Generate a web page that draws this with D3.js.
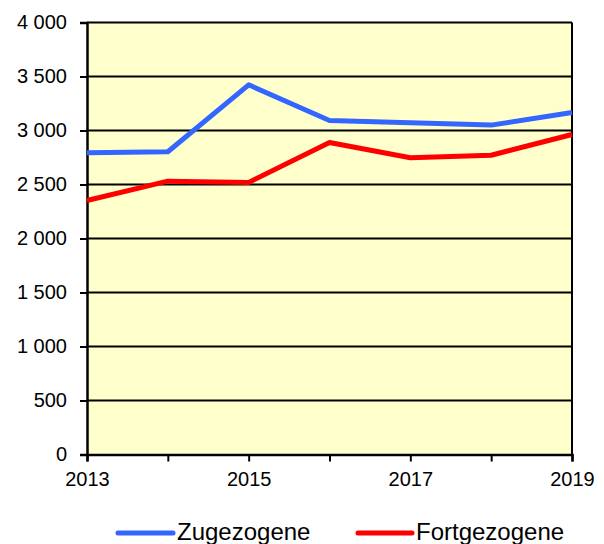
<!DOCTYPE html>
<html><head><meta charset="utf-8">
<script src="https://cdn.jsdelivr.net/npm/d3@7"></script>
<style>body{margin:0;background:#fff}svg{display:block}text{font-family:"Liberation Sans",Arial,sans-serif;fill:#000}</style>
</head><body>
<script>
const years = [2013, 2014, 2015, 2016, 2017, 2018, 2019];
const zugezogene = [2795, 2803, 3423, 3093, 3072, 3050, 3167];
const fortgezogene = [2352, 2531, 2519, 2889, 2747, 2771, 2963];
const yTicks = [0, 500, 1000, 1500, 2000, 2500, 3000, 3500, 4000];
const xLabels = [2013, 2015, 2017, 2019];
const seriesNames = ["Zugezogene", "Fortgezogene"];

const W = 604, H = 544;
const L = 87, R = 572, T = 22.5, B = 454.5;
const svg = d3.select("body").append("svg").attr("width", W).attr("height", H);
const x = d3.scaleLinear().domain([2013, 2019]).range([L, R]);
const y = d3.scaleLinear().domain([0, 4000]).range([B, T]);

svg.append("rect").attr("x", L).attr("y", T).attr("width", R - L).attr("height", B - T).attr("fill", "#FFFFCC");

// grid
svg.selectAll(".grid").data(yTicks.filter(d => d > 0)).enter().append("line")
  .attr("x1", L).attr("x2", R).attr("y1", d => y(d)).attr("y2", d => y(d))
  .attr("stroke", "#000").attr("stroke-width", 2);

// right border
svg.append("line").attr("x1", R).attr("x2", R).attr("y1", T).attr("y2", B).attr("stroke", "#000").attr("stroke-width", 2);

// y axis
const yAxis = svg.append("g").attr("transform", `translate(${L},0)`)
  .call(d3.axisLeft(y).tickValues(yTicks).tickSize(7).tickPadding(13)
    .tickFormat(d => d3.format(",")(d).replace(/,/g, " ")));
yAxis.attr("font-size", 20).attr("font-family", "Liberation Sans, Arial, sans-serif");
yAxis.select(".domain").attr("stroke-width", 2.5);
yAxis.selectAll(".tick line").attr("stroke-width", 2);
yAxis.selectAll("text").style("font-size", "20px");

// x axis
const xAxis = svg.append("g").attr("transform", `translate(0,${B})`)
  .call(d3.axisBottom(x).tickValues(years).tickSize(7).tickPadding(10)
    .tickFormat(d => xLabels.includes(d) ? String(d) : ""));
xAxis.attr("font-size", 20).attr("font-family", "Liberation Sans, Arial, sans-serif");
xAxis.select(".domain").attr("stroke-width", 2.5);
xAxis.selectAll(".tick line").attr("stroke-width", 2);
xAxis.selectAll("text").style("font-size", "20px");

const line = d3.line().x((d, i) => x(years[i])).y(d => y(d));
const colors = ["#3366FF", "#FF0000"];
[zugezogene, fortgezogene].forEach((s, k) => {
  svg.append("path").datum(s).attr("d", line).attr("fill", "none")
    .attr("stroke", colors[k]).attr("stroke-width", 5).attr("stroke-linejoin", "round");
});

// legend
const leg = [{x1: 118, x2: 173, tx: 177}, {x1: 358, x2: 412, tx: 416}];
seriesNames.forEach((n, k) => {
  svg.append("line").attr("x1", leg[k].x1).attr("x2", leg[k].x2).attr("y1", 533).attr("y2", 533)
    .attr("stroke", colors[k]).attr("stroke-width", 5).attr("stroke-linecap", "round");
  svg.append("text").attr("x", leg[k].tx).attr("y", 540).style("font-size", "24px").text(n);
});
</script>
</body></html>
